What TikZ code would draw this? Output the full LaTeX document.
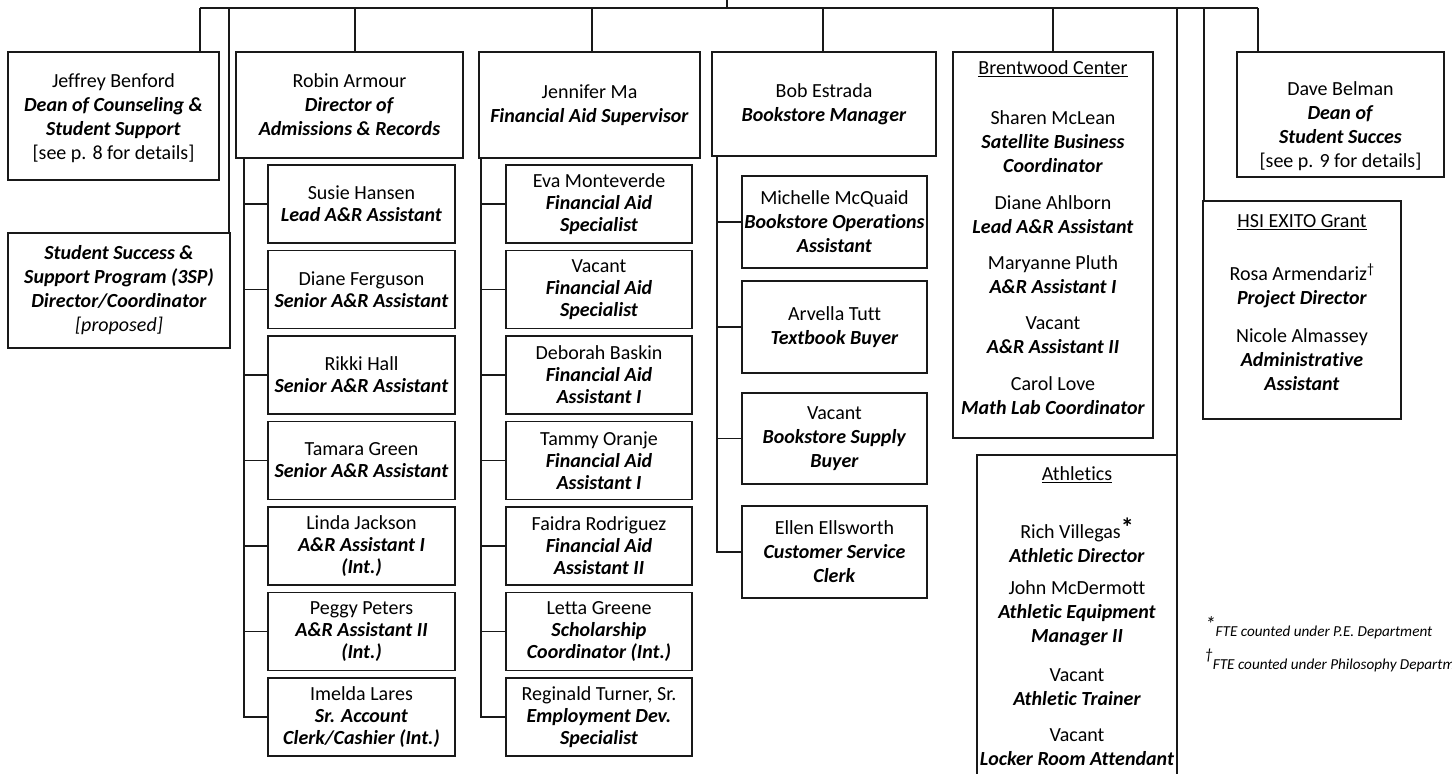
\documentclass[tikz,border=0pt]{standalone}
\usepackage{fontspec}
\setmainfont{Carlito}[Ligatures=NoCommon]
\newcommand{\jtl}[1]{\textbf{\textit{#1}}}
\newcommand{\fsz}{\fontsize{20}{24}\selectfont}
\newcommand{\fszs}{\fontsize{20}{22}\selectfont}
\tikzset{
  ln/.style={line width=1.8pt, draw=black!90},
  bx/.style={draw=black!90, line width=1.8pt, rectangle, inner sep=0pt, align=center, text=black, font=\fsz},
  cbx/.style={bx, font=\fszs},
  tx/.style={inner sep=0pt, align=center, text=black, font=\fsz},
  fn/.style={inner sep=0pt, anchor=base west, text=black, font=\fontsize{15.2}{18}\selectfont\itshape},
}
\begin{document}
\begin{tikzpicture}[x=1pt,y=-1pt]
\useasboundingbox (0,0) rectangle (1452,774);
\clip (0,0) rectangle (1452,774);
\fill[white] (0,0) rectangle (1452,774);

% ---- top level boxes
\node[bx, minimum width=211pt, minimum height=128pt] (jeff) at (113.5,116) {};
\node[tx] (jefft) at (113.5,118) {Jeffrey Benford\\\jtl{Dean of Counseling \&}\\\jtl{Student Support}\\{}[see p. 8 for details]};
\node[bx, minimum width=222pt, minimum height=115pt] (sssp) at (119,290.5) {\jtl{Student Success \&}\\\jtl{Support Program (3SP)}\\\jtl{Director/Coordinator}\\\textit{[proposed]}};
\node[bx, minimum width=227pt, minimum height=106pt] (robin) at (349.5,105) {Robin Armour\\\jtl{Director of}\\\jtl{Admissions \& Records}};
\node[bx, minimum width=221pt, minimum height=106pt] (jen) at (589.5,105) {Jennifer Ma\\\jtl{Financial Aid Supervisor}};
\node[bx, minimum width=224pt, minimum height=104pt] (bob) at (824,104) {Bob Estrada\\\jtl{Bookstore Manager}};
\node[bx, minimum width=200pt, minimum height=386pt] (brent) at (1053,245) {};
\node[bx, minimum width=207pt, minimum height=125pt] (dave) at (1340.5,114.5) {};
\node[bx, minimum width=198pt, minimum height=218pt] (hsi) at (1302,310) {};
\node[bx, minimum width=200pt, minimum height=345pt] (ath) at (1077,627.5) {};

% ---- texts inside group boxes
\node[tx] (davet) at (1340.5,126) {Dave Belman\\\jtl{Dean of}\\\jtl{Student Succes}\\{}[see p. 9 for details]};

\node[tx] (brh) at (1053,69) {\underline{Brentwood Center}};
\node[tx] (br1) at (1053,141.5) {Sharen McLean\\\jtl{Satellite Business}\\\jtl{Coordinator}};
\node[tx] (br2) at (1053,214.5) {Diane Ahlborn\\\jtl{Lead A\&R Assistant}};
\node[tx] (br3) at (1053,275) {Maryanne Pluth\\\jtl{A\&R Assistant I}};
\node[tx] (br4) at (1053,335) {Vacant\\\jtl{A\&R Assistant II}};
\node[tx] (br5) at (1053,395.5) {Carol Love\\\jtl{Math Lab Coordinator}};

\node[tx] (hsih) at (1302,222) {\underline{HSI EXITO Grant}};
\node[tx] (hsi1) at (1302,286) {Rosa Armendariz\textsuperscript{†}\\\jtl{Project Director}};
\node[tx] (hsi2) at (1302,359.5) {Nicole Almassey\\\jtl{Administrative}\\\jtl{Assistant}};

\node[tx] (athh) at (1077,475) {\underline{Athletics}};
\node[tx] (ath1) at (1077,540) {Rich Villegas\raisebox{2pt}{\fontsize{26}{26}\selectfont\bfseries *}\\\jtl{Athletic Director}};
\node[tx] (ath2) at (1077,613.5) {John McDermott\\\jtl{Athletic Equipment}\\\jtl{Manager II}};
\node[tx] (ath3) at (1077,687) {Vacant\\\jtl{Athletic Trainer}};
\node[tx] (ath4) at (1077,747) {Vacant\\\jtl{Locker Room Attendant}};

% ---- A&R children
\node[cbx, minimum width=187pt, minimum height=78pt] (ar1) at (361.5,204) {Susie Hansen\\\jtl{Lead A\&R Assistant}};
\node[cbx, minimum width=187pt, minimum height=78pt] (ar2) at (361.5,289.5) {Diane Ferguson\\\jtl{Senior A\&R Assistant}};
\node[cbx, minimum width=187pt, minimum height=78pt] (ar3) at (361.5,375) {Rikki Hall\\\jtl{Senior A\&R Assistant}};
\node[cbx, minimum width=187pt, minimum height=78pt] (ar4) at (361.5,460.5) {Tamara Green\\\jtl{Senior A\&R Assistant}};
\node[cbx, minimum width=187pt, minimum height=78pt] (ar5) at (361.5,546) {Linda Jackson\\\jtl{A\&R Assistant I}\\\jtl{(Int.)}};
\node[cbx, minimum width=187pt, minimum height=78pt] (ar6) at (361.5,631.5) {Peggy Peters\\\jtl{A\&R Assistant II}\\\jtl{(Int.)}};
\node[cbx, minimum width=187pt, minimum height=78pt] (ar7) at (361.5,717) {Imelda Lares\\\jtl{Sr. Account}\\\jtl{Clerk/Cashier (Int.)}};

% ---- FA children
\node[cbx, minimum width=186pt, minimum height=78pt] (fa1) at (599,204) {Eva Monteverde\\\jtl{Financial Aid}\\\jtl{Specialist}};
\node[cbx, minimum width=186pt, minimum height=78pt] (fa2) at (599,289.5) {Vacant\\\jtl{Financial Aid}\\\jtl{Specialist}};
\node[cbx, minimum width=186pt, minimum height=78pt] (fa3) at (599,375) {Deborah Baskin\\\jtl{Financial Aid}\\\jtl{Assistant I}};
\node[cbx, minimum width=186pt, minimum height=78pt] (fa4) at (599,460.5) {Tammy Oranje\\\jtl{Financial Aid}\\\jtl{Assistant I}};
\node[cbx, minimum width=186pt, minimum height=78pt] (fa5) at (599,546) {Faidra Rodriguez\\\jtl{Financial Aid}\\\jtl{Assistant II}};
\node[cbx, minimum width=186pt, minimum height=78pt] (fa6) at (599,631.5) {Letta Greene\\\jtl{Scholarship}\\\jtl{Coordinator (Int.)}};
\node[cbx, minimum width=186pt, minimum height=78pt] (fa7) at (599,717) {Reginald Turner, Sr.\\\jtl{Employment Dev.}\\\jtl{Specialist}};

% ---- Bookstore children
\node[bx, minimum width=185pt, minimum height=92pt] (bk1) at (834.5,222) {Michelle McQuaid\\\jtl{Bookstore Operations}\\\jtl{Assistant}};
\node[bx, minimum width=185pt, minimum height=92pt] (bk2) at (834.5,327) {Arvella Tutt\\\jtl{Textbook Buyer}};
\node[bx, minimum width=185pt, minimum height=91pt] (bk3) at (834.5,438.5) {Vacant\\\jtl{Bookstore Supply}\\\jtl{Buyer}};
\node[bx, minimum width=185pt, minimum height=92pt] (bk4) at (834.5,552) {Ellen Ellsworth\\\jtl{Customer Service}\\\jtl{Clerk}};

% ---- top bar and connectors
\coordinate (top) at (727,0);
\coordinate (cjeff) at (200,8);
\coordinate (csssp) at (229,8);
\coordinate (crobin) at (355,8);
\coordinate (cjen) at (592,8);
\coordinate (cbob) at (823,8);
\coordinate (cbrent) at (1053,8);
\coordinate (cath) at (1177,8);
\coordinate (chsi) at (1204,8);
\coordinate (cdave) at (1258,8);
\draw[ln] (top) -- (top |- cjeff);
\draw[ln] (cjeff) -- (cdave);
\draw[ln] (cjeff) -- (cjeff |- jeff.north);
\draw[ln] (csssp) -- (csssp |- sssp.north);
\draw[ln] (crobin) -- (crobin |- robin.north);
\draw[ln] (cjen) -- (cjen |- jen.north);
\draw[ln] (cbob) -- (cbob |- bob.north);
\draw[ln] (cbrent) -- (cbrent |- brent.north);
\draw[ln] (cath) -- (cath |- ath.north);
\draw[ln] (chsi) -- (chsi |- hsi.north);
\draw[ln] (cdave) -- (cdave |- dave.north);

% ---- spines
\coordinate (arsp) at (244,158);
\draw[ln] (arsp) |- (ar7.west);
\foreach \k in {1,...,6} \draw[ln] (arsp |- ar\k.west) -- (ar\k.west);
\coordinate (fasp) at (481,158);
\draw[ln] (fasp) |- (fa7.west);
\foreach \k in {1,...,6} \draw[ln] (fasp |- fa\k.west) -- (fa\k.west);
\coordinate (bksp) at (717,156);
\draw[ln] (bksp) |- (bk4.west);
\foreach \k in {1,...,3} \draw[ln] (bksp |- bk\k.west) -- (bk\k.west);

% ---- footnotes
\node[fn] (fn1) at (1205,636) {\raisebox{5pt}{\fontsize{21}{21}\selectfont *}FTE counted under P.E. Department};
\node[fn] (fn2) at (1205,669) {\raisebox{10pt}{†}FTE counted under Philosophy Department};
\end{tikzpicture}
\end{document}
